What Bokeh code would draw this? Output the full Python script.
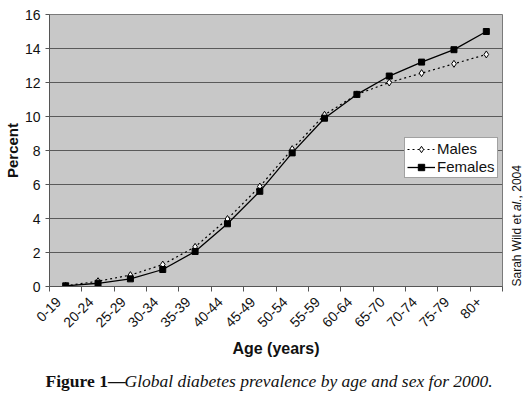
import math
from bokeh.plotting import figure
from bokeh.layouts import column, row
from bokeh.models import FixedTicker, Label, Legend, ColumnDataSource
from bokeh.embed import file_html
from bokeh.resources import INLINE

age_groups = ["0-19", "20-24", "25-29", "30-34", "35-39", "40-44", "45-49",
              "50-54", "55-59", "60-64", "65-70", "70-74", "75-79", "80+"]
males = [0.04, 0.31, 0.67, 1.29, 2.33, 3.97, 5.88, 8.08, 10.1, 11.3, 12.0, 12.55, 13.1, 13.65]
females = [0.04, 0.19, 0.45, 1.0, 2.06, 3.69, 5.6, 7.86, 9.9, 11.3, 12.38, 13.2, 13.93, 15.0]
y_ticks = [0, 2, 4, 6, 8, 10, 12, 14, 16]

n = len(age_groups)
idx = list(range(n))
src = ColumnDataSource(dict(x=idx, m=males, f=females))

p = figure(width=503, height=362, output_backend="svg", toolbar_location=None,
           x_range=(-0.5, n - 0.5), y_range=(y_ticks[0], y_ticks[-1]),
           min_border_left=48, min_border_right=1, min_border_top=14, min_border_bottom=76)

p.background_fill_color = "#c8c8c8"
p.border_fill_color = "white"
p.outline_line_color = "#7a7a7a"
p.outline_line_width = 1

# axes: category labels sit slightly left of each category centre, as in Excel
label_shift = 0.22
label_pos = [round(i - label_shift, 2) for i in idx]
p.xaxis.ticker = FixedTicker(ticks=label_pos, minor_ticks=[i - 0.5 for i in range(n + 1)])
p.xaxis.major_label_overrides = {pos: lab for pos, lab in zip(label_pos, age_groups)}
p.xaxis.major_label_orientation = math.pi / 4
p.xaxis.major_tick_out = 0
p.xaxis.major_tick_in = 0
p.xaxis.minor_tick_out = 5
p.xaxis.minor_tick_in = 0
p.xaxis.minor_tick_line_color = "#555555"
p.xaxis.major_label_text_font = "Liberation Sans"
p.xaxis.major_label_text_font_size = "14px"
p.xaxis.major_label_text_color = "#111111"
p.xaxis.major_label_standoff = 8
p.xaxis.axis_line_color = "#555555"
p.xaxis.axis_label = "Age (years)"
p.xaxis.axis_label_text_font = "Liberation Sans"
p.xaxis.axis_label_text_font_style = "bold"
p.xaxis.axis_label_text_font_size = "16px"
p.xaxis.axis_label_text_color = "#111111"
p.xaxis.axis_label_standoff = 5

p.yaxis.ticker = FixedTicker(ticks=y_ticks)
p.yaxis.major_tick_out = 4
p.yaxis.major_tick_in = 0
p.yaxis.minor_tick_line_color = None
p.yaxis.major_tick_line_color = "#555555"
p.yaxis.major_label_text_font = "Liberation Sans"
p.yaxis.major_label_text_font_size = "14px"
p.yaxis.major_label_text_color = "#111111"
p.yaxis.major_label_standoff = 5
p.yaxis.axis_line_color = "#555555"
p.yaxis.axis_label = "Percent"
p.yaxis.axis_label_text_font = "Liberation Sans"
p.yaxis.axis_label_text_font_style = "bold"
p.yaxis.axis_label_text_font_size = "15px"
p.yaxis.axis_label_text_color = "#111111"
p.yaxis.axis_label_standoff = 1

p.xgrid.grid_line_color = None
p.ygrid.grid_line_color = "#5a5a5a"
p.ygrid.grid_line_width = 1

# series
lm = p.line("x", "m", source=src, line_color="black", line_width=1.2, line_dash="2 3")
sm = p.scatter("x", "m", source=src, marker="diamond", size=7, fill_color="white",
               line_color="black", line_width=1)
lf = p.line("x", "f", source=src, line_color="black", line_width=1.3)
sf = p.scatter("x", "f", source=src, marker="square", size=6, fill_color="black",
               line_color="black")

legend = Legend(items=[("Males", [lm, sm]), ("Females", [lf, sf])],
                location=(355, 108))
legend.label_text_font = "Liberation Sans"
legend.label_text_font_size = "15px"
legend.label_text_color = "#111111"
legend.glyph_width = 28
legend.glyph_height = 16
legend.label_height = 17
legend.label_standoff = 2
legend.padding = 2
legend.spacing = 1
legend.margin = 0
legend.border_line_color = "#444444"
legend.background_fill_color = "white"
legend.background_fill_alpha = 1
p.add_layout(legend)


def blank_fig(w, h):
    f = figure(width=w, height=h, output_backend="svg", toolbar_location=None,
               x_range=(0, 1), y_range=(0, 1), x_axis_type=None, y_axis_type=None,
               min_border=0, min_border_left=0, min_border_right=0,
               min_border_top=0, min_border_bottom=0)
    f.outline_line_color = None
    f.background_fill_color = "white"
    f.border_fill_color = "white"
    f.xgrid.grid_line_color = None
    f.ygrid.grid_line_color = None
    return f


# credit on right (its frame is aligned with the main plot frame)
credit = blank_fig(20, 362)
credit_parts = [("Sarah Wild et ", "normal", 0), ("al.", "italic", 75.4), (", 2004", "normal", 88.1)]
for txt, style, yy in credit_parts:
    credit.add_layout(Label(x=13, y=yy, x_units="screen", y_units="screen", text=txt,
                            angle=math.pi / 2, text_align="left", text_baseline="alphabetic",
                            text_font="Liberation Sans", text_font_style=style,
                            text_font_size="12px", text_color="#111111"))

# caption
cap = blank_fig(523, 33)
cap.add_layout(Label(x=45, y=15, x_units="screen", y_units="screen", text="Figure 1\u2014",
                     text_align="left", text_baseline="alphabetic",
                     text_font="Liberation Serif", text_font_style="bold",
                     text_font_size="17.5px", text_color="#111111"))
cap.add_layout(Label(x=124, y=15, x_units="screen", y_units="screen",
                     text="Global diabetes prevalence by age and sex for 2000.",
                     text_align="left", text_baseline="alphabetic",
                     text_font="Liberation Serif", text_font_style="italic",
                     text_font_size="17.5px", text_color="#111111"))

layout = column(row(p, credit, spacing=0), cap, spacing=0)
open("out.html", "w").write(file_html(layout, INLINE))
